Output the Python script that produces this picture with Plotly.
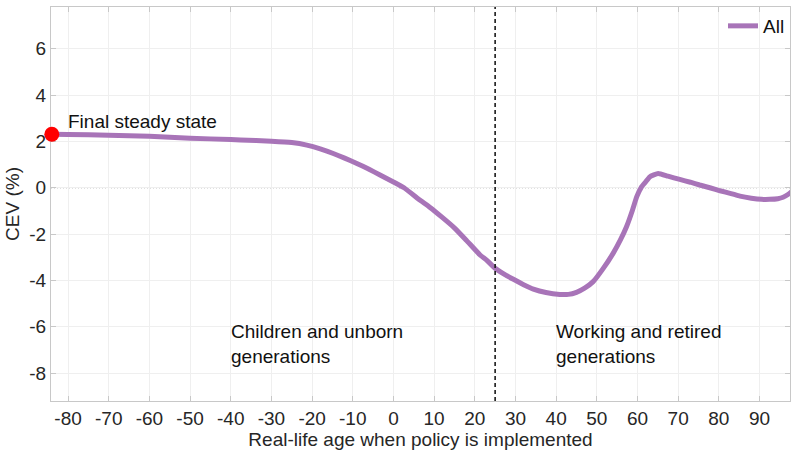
import plotly.graph_objects as go

# Consumption-equivalent variation by real-life age at policy implementation
age = [-84, -80, -70, -60, -50, -40, -37.6, -30, -25, -21.3, -18, -14.8, -12, -9, -6,
       -3.3, 0, 2.6, 6.5, 9, 12, 15.1, 18, 21.3, 22.9, 25, 27, 29.5, 32, 34.4, 37.5,
       40.9, 43, 45, 47, 49.1, 51.5, 54, 55.8, 57.3, 58.7, 59.8, 61, 62, 63, 65.1, 67.5,
       70.4, 73, 75.3, 78, 80.3, 83, 85.2, 88, 90.5, 92.5, 94.5, 95.8, 97, 98]
cev = [2.31, 2.3, 2.27, 2.22, 2.14, 2.08, 2.06, 2.01, 1.95, 1.84, 1.68, 1.48, 1.28,
       1.05, 0.8, 0.55, 0.25, 0.0, -0.53, -0.85, -1.28, -1.75, -2.28, -2.9, -3.12,
       -3.47, -3.7, -3.95, -4.18, -4.37, -4.52, -4.6, -4.6, -4.51, -4.33, -4.05, -3.5,
       -2.83, -2.25, -1.68, -1.0, -0.39, 0.04, 0.25, 0.47, 0.62, 0.5, 0.36, 0.24, 0.12,
       -0.01, -0.13, -0.25, -0.36, -0.45, -0.5, -0.5, -0.47, -0.41, -0.29, -0.15]

steady_age = [-84]
steady_cev = [2.31]

x_ticks = list(range(-80, 100, 10))
y_ticks = [-8, -6, -4, -2, 0, 2, 4, 6]
cutoff_age = 25

purple = "#a874b8"
font_family = "Liberation Sans, Arial, Helvetica, sans-serif"
text_size = 19

fig = go.Figure()
fig.add_trace(go.Scatter(x=age, y=cev, mode="lines", name="All",
                         line=dict(color=purple, width=5, shape="spline", smoothing=0.4)))
fig.add_trace(go.Scatter(x=steady_age, y=steady_cev, mode="markers", showlegend=False,
                         marker=dict(color="#ff0000", size=15, line=dict(width=0)),
                         cliponaxis=False))

fig.add_shape(type="line", x0=-84.2, x1=97.5, y0=0, y1=0, xref="x", yref="y",
              line=dict(color="#8a8a8a", width=1, dash="1px,2px"), layer="below")
fig.add_shape(type="line", x0=cutoff_age, x1=cutoff_age, y0=0, y1=1, xref="x", yref="paper",
              line=dict(color="#1a1a1a", width=1.6, dash="4px,3px"))

fig.add_annotation(x=-80.5, y=2.31, text="Final steady state", showarrow=False,
                   xanchor="left", yanchor="bottom", yshift=0,
                   font=dict(size=text_size, color="#111111"))
fig.add_annotation(x=-40.5, y=-6.75, text="Children and unborn<br>generations",
                   showarrow=False, xanchor="left", yanchor="middle", align="left",
                   font=dict(size=text_size, color="#111111"))
fig.add_annotation(x=39.5, y=-6.75, text="Working and retired<br>generations",
                   showarrow=False, xanchor="left", yanchor="middle", align="left",
                   font=dict(size=text_size, color="#111111"))

axis_common = dict(showline=True, linecolor="#c8c8c8", linewidth=1, mirror="ticks",
                   ticks="inside", ticklen=5, tickcolor="#c8c8c8",
                   showgrid=True, gridcolor="#efefef", gridwidth=1, zeroline=False,
                   layer="below traces",
                   tickfont=dict(size=text_size, color="#262626"))

fig.update_layout(
    width=792, height=450,
    margin=dict(l=51, r=2, t=7, b=49),
    paper_bgcolor="white", plot_bgcolor="white",
    font=dict(family=font_family, color="#262626"),
    showlegend=True,
    legend=dict(x=1, y=1, xanchor="right", yanchor="top", bgcolor="rgba(0,0,0,0)",
                font=dict(size=text_size, color="#111111"), itemwidth=30,
                tracegroupgap=0),
    xaxis=dict(range=[-84.2, 97.5], tickvals=x_ticks, ticktext=[str(v) for v in x_ticks],
               title=dict(text="Real-life age when policy is implemented",
                          font=dict(size=text_size), standoff=2),
               **axis_common),
    yaxis=dict(range=[-9.2, 7.8], tickvals=y_ticks, ticktext=[str(v) for v in y_ticks],
               title=dict(text="CEV (%)", font=dict(size=text_size), standoff=4),
               **axis_common),
)

fig.write_html("out.html")
